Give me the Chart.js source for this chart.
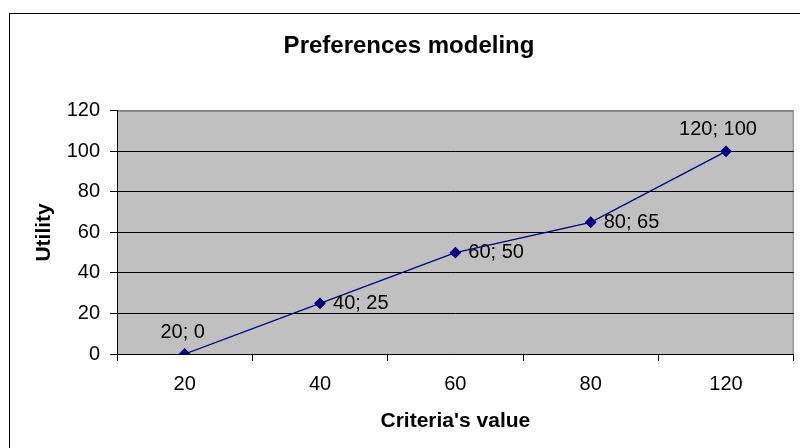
<!DOCTYPE html>
<html>
<head>
<meta charset="utf-8">
<script src="https://cdn.jsdelivr.net/npm/chart.js@4/dist/chart.umd.min.js"></script>
<style>
  html, body { margin: 0; padding: 0; background: #fff; }
  #wrap { width: 800px; height: 448px; }
</style>
</head>
<body>
<div id="wrap"><canvas id="PrefChart" width="800" height="448"></canvas></div>
<script>
const criteria = ['20', '40', '60', '80', '120'];
const utility = [0, 25, 50, 65, 100];
const yTicks = [0, 20, 40, 60, 80, 100, 120];

const FONT = '"Liberation Sans", Arial, sans-serif';

// gray plot area + outer chart border, like the old excel look
const excelBack = {
    id: 'excelBack',
    beforeDraw(chart) {
        const ctx = chart.ctx;
        const a = chart.chartArea;
        ctx.save();
        ctx.fillStyle = '#fff';
        ctx.fillRect(0, 0, chart.width, chart.height);
        ctx.strokeStyle = '#000';
        ctx.lineWidth = 1;
        ctx.strokeRect(9.5, 13.5, chart.width + 10, chart.height + 10);
        ctx.fillStyle = '#c0c0c0';
        ctx.fillRect(a.left, a.top, a.right - a.left, a.bottom - a.top);
        ctx.strokeStyle = '#808080';
        ctx.strokeRect(a.left + 0.5, a.top + 0.5, a.right - a.left - 1, a.bottom - a.top);
        ctx.restore();
    }
};

// "x; y" labels next to each point
const pointLabels = {
    id: 'pointLabels',
    afterDatasetsDraw(chart) {
        const ctx = chart.ctx;
        const meta = chart.getDatasetMeta(0);
        const last = meta.data.length - 1;
        ctx.save();
        ctx.font = '20px ' + FONT;
        ctx.fillStyle = '#000';
        meta.data.forEach((pt, i) => {
            const txt = criteria[i] + '; ' + utility[i];
            ctx.textBaseline = 'middle';
            if (i === 0 || i === last) {
                ctx.textAlign = 'center';
                ctx.fillText(txt, pt.x + (i === 0 ? -2 : -8), pt.y - 22);
            } else {
                ctx.textAlign = 'left';
                ctx.fillText(txt, pt.x + 13, pt.y);
            }
        });
        ctx.restore();
    }
};

const ctx = document.getElementById('PrefChart').getContext('2d');
const chart = new Chart(ctx, {
    type: 'line',
    data: {
        labels: criteria,
        datasets: [{
            label: 'Utility',
            data: utility,
            borderColor: '#000080',
            backgroundColor: '#000080',
            borderWidth: 1.3,
            pointStyle: 'rectRot',
            pointRadius: 5,
            pointHoverRadius: 5,
            tension: 0
        }]
    },
    options: {
        responsive: false,
        animation: false,
        layout: { padding: { left: 20, right: 2, top: 0, bottom: 0 } },
        plugins: {
            legend: { display: false },
            tooltip: { enabled: false },
            title: {
                display: true,
                text: 'Preferences modeling',
                color: '#000',
                font: { family: FONT, size: 24, weight: 'bold' },
                padding: { top: 32, bottom: 50 }
            }
        },
        scales: {
            x: {
                offset: true,
                afterFit(scale) {
                    scale.height = 94;
                    scale.paddingLeft = 0;
                    scale.paddingRight = 0;
                },
                grid: {
                    offset: true,
                    drawOnChartArea: false,
                    drawTicks: true,
                    tickLength: 7,
                    color: '#000'
                },
                border: { color: '#000', width: 1 },
                ticks: {
                    color: '#000',
                    padding: 11,
                    font: { family: FONT, size: 20 }
                },
                title: {
                    display: true,
                    text: "Criteria's value",
                    color: '#000',
                    font: { family: FONT, size: 21, weight: 'bold' },
                    padding: { top: 0, bottom: 14 }
                }
            },
            y: {
                min: 0,
                max: 120,
                afterFit(scale) { scale.width = 97; },
                afterBuildTicks(scale) { scale.ticks = yTicks.map(v => ({ value: v })); },
                grid: {
                    color: ctx => ctx.tick && ctx.tick.value === 120 ? '#808080' : '#000',
                    tickColor: '#000',
                    tickLength: 7,
                    lineWidth: 1
                },
                border: { color: '#000', width: 1 },
                ticks: {
                    color: '#000',
                    padding: 10,
                    font: { family: FONT, size: 20 }
                },
                title: {
                    display: true,
                    text: 'Utility',
                    color: '#000',
                    font: { family: FONT, size: 21, weight: 'bold' },
                    padding: { top: 12, bottom: 0 }
                }
            }
        }
    },
    plugins: [excelBack, pointLabels]
});
</script>
</body>
</html>
